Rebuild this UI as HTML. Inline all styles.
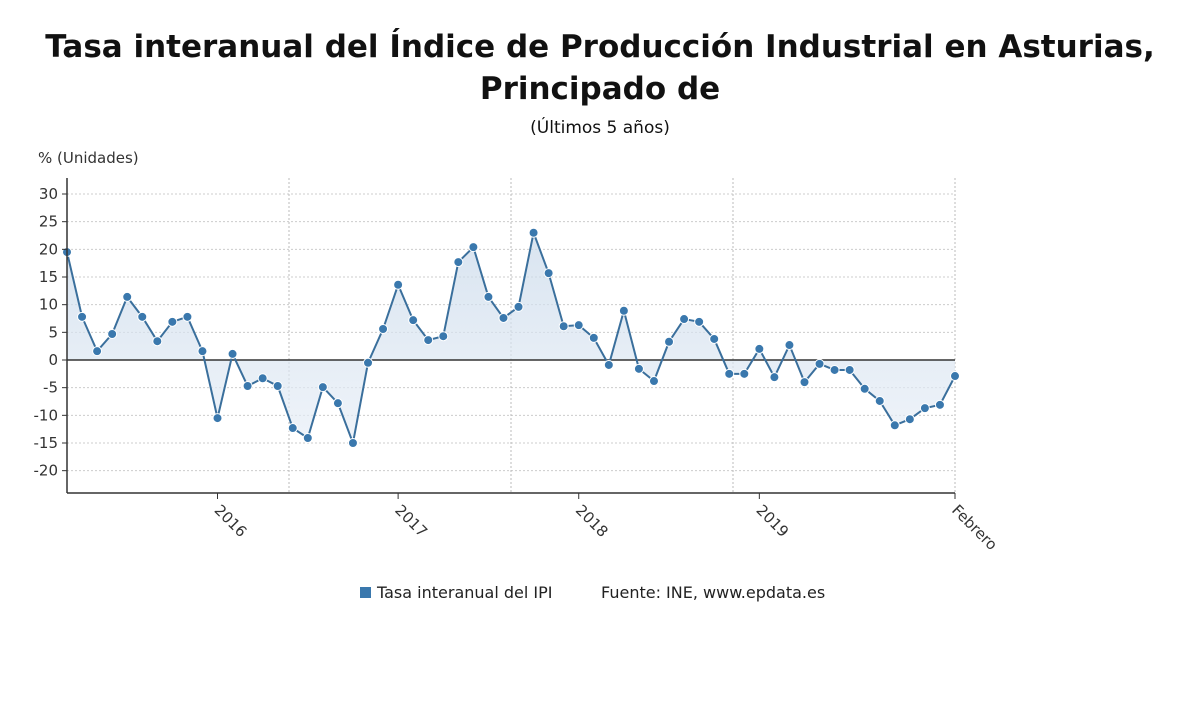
<!DOCTYPE html>
<html><head><meta charset="utf-8">
<style>
body{margin:0;background:#fff;width:1200px;height:705px;overflow:hidden;font-family:"Liberation Sans","DejaVu Sans",sans-serif;}
</style></head>
<body>
<svg id="chart" width="1200" height="705" viewBox="0 0 1200 705" xmlns="http://www.w3.org/2000/svg" font-family="'DejaVu Sans','Liberation Sans',sans-serif">
<defs>
<linearGradient id="fillg" x1="0" y1="0" x2="0" y2="1">
<stop offset="0" stop-color="#c9d9ea" stop-opacity="0.7"/>
<stop offset="1" stop-color="#e8eff7" stop-opacity="0.7"/>
</linearGradient>
</defs>
<text x="600" y="57" text-anchor="middle" font-size="31" font-weight="bold" fill="#111">Tasa interanual del Índice de Producción Industrial en Asturias,</text>
<text x="600" y="99" text-anchor="middle" font-size="31" font-weight="bold" fill="#111">Principado de</text>
<text x="600" y="133" text-anchor="middle" font-size="17" fill="#111">(Últimos 5 años)</text>
<text x="38" y="163" font-size="15" fill="#333">% (Unidades)</text>
<g id="grid"></g>
<g id="series"></g>
<g id="axes"></g>
<g>
<rect x="360" y="587" width="11" height="11" fill="#3a78ad"/>
<text x="377" y="598" font-size="16" fill="#222">Tasa interanual del IPI</text>
<text x="601" y="598" font-size="16" fill="#222">Fuente: INE, www.epdata.es</text>
</g>
</svg>
<script>
const values = [19.5,7.8,1.6,4.7,11.4,7.8,3.4,6.9,7.8,1.6,-10.5,1.1,-4.7,-3.3,-4.7,-12.3,-14.1,-4.9,-7.8,-15,-0.5,5.6,13.6,7.2,3.6,4.3,17.7,20.4,11.4,7.6,9.6,23,15.7,6.1,6.3,4,-0.9,8.9,-1.6,-3.8,3.3,7.4,6.9,3.8,-2.5,-2.5,2,-3.1,2.7,-4,-0.7,-1.8,-1.8,-5.2,-7.4,-11.8,-10.7,-8.7,-8.1,-2.9];
const yTicks = [30,25,20,15,10,5,0,-5,-10,-15,-20];
const xLabels = ["2016","2017","2018","2019","Febrero"];
const xLabelIndex = [10,22,34,46,59];

const NS="http://www.w3.org/2000/svg";
const x0=67,x1=955,yBot=493,yTopLine=178,zeroPx=360,pxPerUnit=5.533;
const xs=i=>x0+i*(x1-x0)/(values.length-1);
const ys=v=>zeroPx-v*pxPerUnit;
function mk(tag,attrs,parent){const e=document.createElementNS(NS,tag);for(const k in attrs)e.setAttribute(k,attrs[k]);parent.appendChild(e);return e;}
const grid=document.getElementById('grid'),series=document.getElementById('series'),axes=document.getElementById('axes');

yTicks.forEach(t=>{
  if(t!==0){const l=mk('line',{x1:x0,x2:x1,y1:ys(t),y2:ys(t),stroke:'#ccc','stroke-dasharray':'2,2'},grid);
  
  }
  const tk=mk('line',{x1:x0-5,x2:x0,y1:ys(t),y2:ys(t),stroke:'#333'},axes);
  
  
  const tx=mk('text',{x:x0-9,y:ys(t)+5,'text-anchor':'end','font-size':15,fill:'#333'},axes);
  tx.textContent=t;
  
  
});
[0,1,2,3,4].forEach(k=>{
  const gx=x0+k*(x1-x0)/4;
  const l=mk('line',{x1:gx,x2:gx,y1:yTopLine,y2:yBot,stroke:'#bbb','stroke-dasharray':'2,2'},grid);
  
  
});
let d='M'+xs(0)+','+ys(0);
values.forEach((v,i)=>{d+=' L'+xs(i)+','+ys(v);});
d+=' L'+xs(values.length-1)+','+ys(0)+' Z';
const area=mk('path',{d:d,fill:'url(#fillg)'},series);


const zl=mk('line',{x1:x0,x2:x1,y1:ys(0),y2:ys(0),stroke:'#333','stroke-width':1.5},series);


const line=mk('polyline',{points:values.map((v,i)=>xs(i)+','+ys(v)).join(' '),fill:'none',stroke:'#3a6f9c','stroke-width':2},series);


values.forEach((v,i)=>{
  const c=mk('circle',{cx:xs(i),cy:ys(v),r:4.5,fill:'#3a78ad',stroke:'#fff','stroke-width':1},series);
  
  
});
const ya=mk('line',{x1:x0,x2:x0,y1:yTopLine,y2:yBot,stroke:'#333','stroke-width':1.5},axes);


const xa=mk('line',{x1:x0,x2:x1,y1:yBot,y2:yBot,stroke:'#333','stroke-width':1.5},axes);


xLabels.forEach((lab,k)=>{
  const px=xs(xLabelIndex[k]);
  const tk=mk('line',{x1:px,x2:px,y1:yBot,y2:yBot+6,stroke:'#333'},axes);
  
  
  const tx=mk('text',{x:px-4,y:yBot+18,'font-size':15,fill:'#333',transform:'rotate(45 '+(px-4)+' '+(yBot+18)+')'},axes);
  tx.textContent=lab;
  
  
});
</script>
</body></html>
